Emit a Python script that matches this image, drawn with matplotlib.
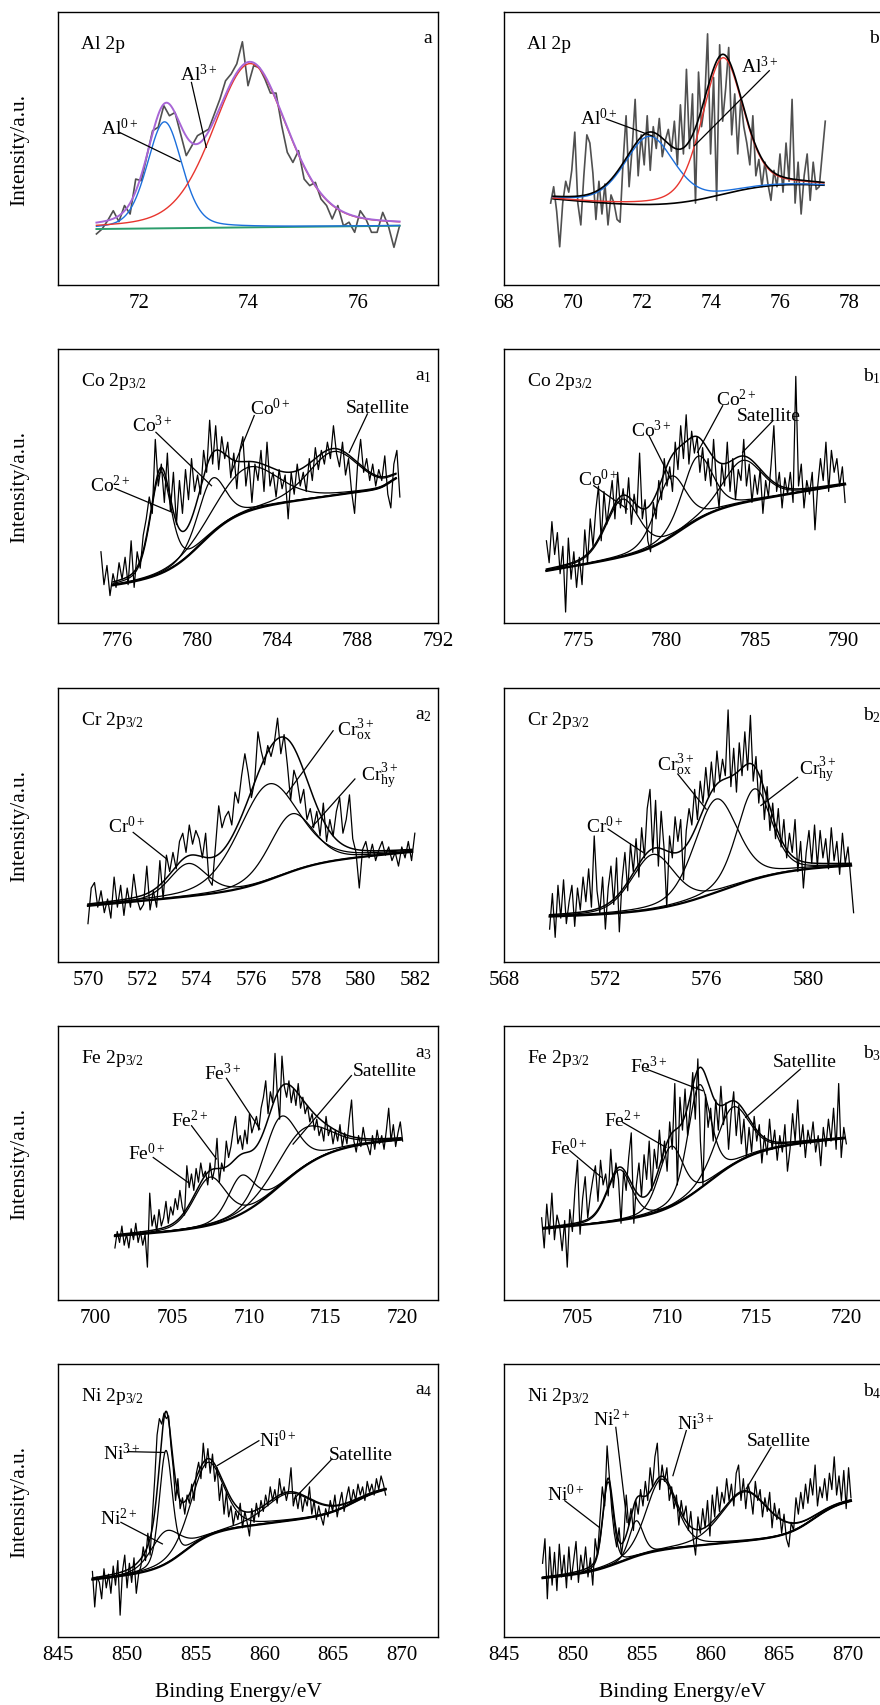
import matplotlib

matplotlib.use("Agg")

import matplotlib.pyplot as plt
import numpy as np

plt.rcParams["font.family"] = ["Liberation Serif", "DejaVu Serif"]
plt.rcParams["mathtext.fontset"] = "custom"
plt.rcParams["mathtext.rm"] = "Liberation Serif"
plt.rcParams["mathtext.it"] = "Liberation Serif:italic"

# ---------------- data (intensity in % of panel height) ----------------
# a : Al 2p
AL_A_RAW_X = (71.23, 76.75)
AL_A_RAW = [
    18.7, 20.5, 23.6, 27.2, 23.2, 29.1, 26.0, 38.8, 38.2, 47.4,
    56.5, 57.8, 65.7, 62.0, 63.2, 55.3, 47.4, 51.0, 54.7, 55.9,
    57.1, 62.6, 68.1, 74.8, 77.3, 81.0, 89.1, 73.0, 80.3, 79.7,
    75.5, 70.3, 70.3, 58.4, 48.6, 44.9, 49.2, 38.8, 36.4, 37.6,
    31.5, 29.1, 24.2, 29.1, 21.7, 23.0, 19.3, 27.2, 24.2, 19.3,
    19.3, 26.6, 21.7, 13.8, 21.7,
]
AL_A_FIT_X = (71.23, 76.75)
AL_A_BG = (71.23, 20.5, 0.22)
AL_A_STEPS = []
AL_A_CENTERS = [72.47, 74.03]
AL_A_HEIGHTS = [39, 60]
AL_A_FWHM = [0.75, 1.6]
AL_A_NAMES = ["Al$^{0+}$", "Al$^{3+}$"]

# b : Al 2p
AL_B_RAW_X = (69.35, 77.3)
AL_B_RAW = [
    30, 36, 27, 14, 30, 38, 34, 42, 56, 30,
    22, 40, 55, 52, 41, 24, 38, 26, 37, 22,
    33, 30, 24, 23, 45, 62, 36, 50, 68, 40,
    55, 44, 62, 42, 58, 50, 61, 47, 53, 57,
    49, 60, 44, 66, 48, 79, 50, 70, 30, 78,
    58, 66, 92, 48, 76, 31, 88, 60, 72, 87,
    55, 70, 48, 68, 58, 52, 44, 62, 40, 46,
    36, 45, 37, 31, 42, 36, 48, 34, 52, 38,
    68, 30, 45, 26, 40, 48, 31, 45, 35, 36,
    48, 60,
]
AL_B_FIT_X = (69.42, 77.26)
AL_B_BG = (69.42, 31.5, -1.2)
AL_B_STEPS = [(15, 74.3, 0.9)]
AL_B_CENTERS = [72.21, 74.33]
AL_B_HEIGHTS = [25, 50]
AL_B_FWHM = [1.7, 1.4]
AL_B_NAMES = ["Al$^{0+}$", "Al$^{3+}$"]

# a1 : Co 2p3/2
CO_A_RAW_X = (775.2, 790.1)
CO_A_RAW = [
    26, 14, 21, 10, 18, 13, 22, 16, 24, 14,
    30, 13, 26, 20, 32, 38, 46, 40, 67, 50,
    58, 44, 62, 41, 55, 36, 52, 40, 56, 45,
    60, 48, 54, 47, 63, 55, 74, 58, 72, 56,
    68, 60, 66, 53, 62, 49, 63, 68, 50, 59,
    44, 58, 52, 63, 48, 66, 50, 55, 46, 56,
    49, 54, 38, 55, 47, 58, 50, 55, 48, 60,
    52, 64, 56, 63, 58, 66, 60, 72, 62, 57,
    66, 54, 60, 48, 40, 58, 67, 55, 60, 52,
    58, 50, 56, 52, 61, 47, 42, 58, 63, 46,
]
CO_A_FIT_X = (775.8, 789.9)
CO_A_BG = (775.8, 13.6, 1.0)
CO_A_STEPS = [(22, 780.2, 0.9), (4, 789.6, 0.25)]
CO_A_CENTERS = [778.18, 780.72, 782.5, 786.8]
CO_A_HEIGHTS = [37, 20, 16, 16]
CO_A_FWHM = [1.2, 1.6, 3.6, 3.0]
CO_A_NAMES = ["Co$^{2+}$", "Co$^{3+}$", "Co$^{0+}$", "Satellite"]

# b1 : Co 2p3/2
CO_B_RAW_X = (773.2, 790.1)
CO_B_RAW = [
    30, 22, 37, 25, 33, 18, 28, 4, 31, 16,
    26, 13, 24, 14, 34, 22, 38, 28, 41, 50,
    30, 48, 36, 44, 52, 38, 55, 42, 49, 40,
    53, 36, 47, 40, 62, 38, 45, 30, 26, 44,
    38, 52, 45, 60, 50, 57, 48, 66, 56, 72,
    60, 76, 58, 70, 62, 68, 55, 64, 52, 60,
    50, 67, 52, 42, 58, 50, 66, 48, 60, 45,
    56, 52, 67, 50, 58, 44, 54, 47, 56, 40,
    52, 46, 58, 72, 48, 55, 42, 53, 47, 55,
    44, 90, 50, 58, 42, 52, 47, 55, 34, 50,
    60, 52, 66, 48, 63, 55, 60, 50, 57, 44,
]
CO_B_FIT_X = (773.2, 790.1)
CO_B_BG = (773.2, 19.0, 1.1)
CO_B_STEPS = [(13, 780.8, 1.0)]
CO_B_CENTERS = [777.49, 780.23, 781.75, 784.3]
CO_B_HEIGHTS = [21, 22, 23, 15.5]
CO_B_FWHM = [2.2, 2.0, 2.0, 2.6]
CO_B_NAMES = ["Co$^{0+}$", "Co$^{3+}$", "Co$^{2+}$", "Satellite"]

# a2 : Cr 2p3/2
CR_A_RAW_X = (570.0, 582.0)
CR_A_RAW = [
    14, 27, 29, 20, 26, 18, 23, 16, 31, 20,
    28, 17, 27, 20, 32, 23, 19, 21, 35, 19,
    26, 20, 37, 23, 39, 33, 40, 34, 44, 47,
    40, 50, 43, 48, 45, 38, 47, 30, 28, 42,
    57, 49, 53, 55, 50, 62, 58, 68, 76, 69,
    60, 66, 84, 77, 72, 79, 75, 80, 89, 76,
    83, 72, 59, 70, 66, 58, 63, 52, 56, 49,
    55, 46, 58, 44, 52, 46, 55, 60, 47, 52,
    61, 45, 40, 27, 41, 44, 38, 43, 37, 41,
    44, 39, 42, 37, 40, 35, 42, 38, 44, 37,
    47,
]
CR_A_FIT_X = (570.0, 581.9)
CR_A_BG = (570.0, 20.5, 0.9)
CR_A_STEPS = [(9, 577.0, 0.8)]
CR_A_CENTERS = [573.68, 576.62, 577.47]
CR_A_HEIGHTS = [12, 35, 21]
CR_A_FWHM = [1.6, 2.6, 1.9]
CR_A_NAMES = ["Cr$^{0+}$", r"Cr$_{\mathrm{ox}}^{3+}$", r"Cr$_{\mathrm{hy}}^{3+}$"]

# b2 : Cr 2p3/2
CR_B_RAW_X = (569.8, 581.8)
CR_B_RAW = [
    12, 25, 9, 28, 16, 30, 14, 22, 28, 13,
    27, 19, 31, 22, 34, 20, 46, 26, 18, 31,
    12, 27, 35, 21, 38, 11, 30, 40, 26, 43,
    33, 45, 31, 49, 38, 56, 63, 40, 59, 35,
    55, 42, 20, 46, 38, 53, 44, 52, 30, 48,
    56, 50, 63, 52, 66, 58, 71, 60, 73, 62,
    77, 66, 74, 68, 92, 64, 78, 62, 80, 68,
    84, 70, 90, 66, 75, 58, 70, 52, 64, 48,
    58, 45, 56, 42, 52, 38, 47, 40, 52, 33,
    44, 27, 40, 48, 36, 50, 35, 48, 38, 45,
    34, 49, 37, 44, 32, 47, 36, 42, 30, 18,
]
CR_B_FIT_X = (569.8, 581.7)
CR_B_BG = (569.8, 16.5, 0.25)
CR_B_STEPS = [(16, 576.6, 1.3)]
CR_B_CENTERS = [573.88, 576.37, 577.88]
CR_B_HEIGHTS = [20, 34, 33]
CR_B_FWHM = [2.0, 2.0, 1.6]
CR_B_NAMES = ["Cr$^{0+}$", r"Cr$_{\mathrm{ox}}^{3+}$", r"Cr$_{\mathrm{hy}}^{3+}$"]

# a3 : Fe 2p3/2
FE_A_RAW_X = (701.3, 720.0)
FE_A_RAW = [
    19, 25, 21, 27, 20, 24, 19, 26, 22, 28,
    21, 25, 20, 24, 12, 39, 27, 31, 25, 33,
    27, 30, 36, 28, 34, 31, 37, 33, 40, 34,
    31, 49, 41, 46, 40, 48, 43, 50, 45, 47,
    42, 50, 44, 48, 59, 43, 50, 47, 58, 52,
    56, 62, 67, 57, 60, 55, 62, 57, 68, 61,
    64, 67, 62, 70, 74, 80, 68, 76, 72, 90,
    75, 66, 89, 78, 74, 80, 72, 77, 71, 79,
    70, 74, 68, 71, 65, 68, 62, 66, 60, 63,
    58, 67, 60, 63, 57, 62, 58, 64, 56, 61,
    57, 66, 73, 58, 54, 60, 56, 63, 58, 56,
    53, 60, 55, 62, 57, 60, 55, 62, 70, 58,
    64, 56, 61, 65, 58,
]
FE_A_FIT_X = (701.3, 719.9)
FE_A_BG = (701.3, 23.3, 0.4)
FE_A_STEPS = [(28, 712.0, 1.6)]
FE_A_CENTERS = [707.47, 709.5, 712.02, 713.5]
FE_A_HEIGHTS = [17.5, 14, 25, 14]
FE_A_FWHM = [2.5, 2.0, 2.6, 4.0]
FE_A_NAMES = ["Fe$^{0+}$", "Fe$^{2+}$", "Fe$^{3+}$", "Satellite"]

# b3 : Fe 2p3/2
FE_B_RAW_X = (703.0, 720.0)
FE_B_RAW = [
    30, 19, 35, 24, 39, 22, 31, 27, 18, 29,
    12, 33, 25, 40, 51, 24, 37, 45, 30, 38,
    44, 49, 36, 51, 42, 46, 38, 55, 41, 50,
    44, 28, 47, 40, 52, 61, 28, 42, 50, 38,
    53, 44, 58, 40, 55, 48, 62, 50, 58, 47,
    65, 55, 79, 42, 74, 62, 77, 60, 70, 83,
    66, 88, 58, 42, 75, 63, 70, 58, 73, 62,
    78, 64, 72, 55, 68, 76, 60, 71, 57, 66,
    52, 63, 54, 67, 58, 64, 50, 60, 53, 66,
    55, 62, 51, 60, 54, 64, 47, 55, 68, 58,
    73, 56, 64, 52, 62, 57, 65, 54, 60, 49,
    63, 56, 66, 58, 70, 55, 79, 52, 63, 57,
]
FE_B_FIT_X = (703.1, 719.9)
FE_B_BG = (703.1, 26.0, 0.6)
FE_B_STEPS = [(23, 712.3, 1.3)]
FE_B_CENTERS = [707.34, 710.21, 711.79, 713.64]
FE_B_HEIGHTS = [18.5, 22, 38, 21]
FE_B_FWHM = [1.6, 1.6, 1.5, 2.2]
FE_B_NAMES = ["Fe$^{0+}$", "Fe$^{2+}$", "Fe$^{3+}$", "Satellite"]

# a4 : Ni 2p3/2
NI_A_RAW_X = (847.5, 868.8)
NI_A_RAW = [
    24, 11, 22, 20, 14, 25, 18, 23, 16, 26,
    19, 28, 8, 24, 30, 18, 27, 20, 29, 16,
    23, 26, 33, 28, 38, 30, 45, 58, 74, 80,
    78, 82, 80, 81, 70, 62, 50, 58, 47, 51,
    45, 52, 49, 56, 50, 60, 64, 58, 71, 62,
    69, 60, 67, 57, 62, 50, 56, 45, 53, 44,
    48, 41, 46, 43, 49, 40, 46, 42, 37, 47,
    42, 49, 44, 50, 46, 52, 48, 55, 50, 54,
    49, 58, 52, 55, 50, 54, 62, 48, 52, 47,
    53, 46, 51, 48, 55, 45, 50, 43, 48, 44,
    41, 47, 44, 50, 46, 52, 44, 49, 53, 46,
    51, 55, 49, 54, 50, 56, 52, 55, 50, 57,
    53, 56, 52, 58, 54, 59, 56, 52,
]
NI_A_FIT_X = (847.5, 868.8)
NI_A_BG = (847.5, 21.0, 0.6)
NI_A_STEPS = [(13, 854.2, 1.0), (8, 866.5, 1.0)]
NI_A_CENTERS = [852.8, 852.83, 855.85, 861.76]
NI_A_HEIGHTS = [12, 41.5, 27, 10]
NI_A_FWHM = [2.5, 1.1, 2.8, 4.0]
NI_A_NAMES = ["Ni$^{2+}$", "Ni$^{3+}$", "Ni$^{0+}$", "Satellite"]

# b4 : Ni 2p3/2
NI_B_RAW_X = (847.8, 870.2)
NI_B_RAW = [
    27, 36, 14, 33, 19, 31, 17, 34, 22, 30,
    18, 33, 21, 28, 35, 20, 30, 24, 33, 22,
    29, 19, 36, 30, 43, 55, 48, 70, 58, 46,
    38, 33, 40, 30, 37, 52, 41, 47, 39, 50,
    45, 54, 48, 57, 50, 62, 55, 66, 71, 54,
    63, 57, 62, 50, 55, 47, 52, 41, 50, 44,
    48, 39, 46, 36, 30, 44, 38, 47, 40, 50,
    37, 52, 44, 55, 46, 53, 49, 58, 50, 56,
    48, 60, 63, 50, 58, 47, 56, 52, 45, 57,
    50, 54, 44, 51, 46, 53, 40, 49, 43, 47,
    38, 45, 36, 33, 42, 39, 51, 45, 53, 47,
    56, 49, 58, 52, 63, 48, 55, 51, 58, 50,
    60, 54, 66, 52, 59, 50, 61, 47, 62, 51,
]
NI_B_FIT_X = (847.8, 870.2)
NI_B_BG = (847.8, 21.5, 0.45)
NI_B_STEPS = [(7, 853.5, 1.2), (12, 867.5, 1.0)]
NI_B_CENTERS = [852.56, 854.6, 856.43, 862.46]
NI_B_HEIGHTS = [31, 13, 26, 18]
NI_B_FWHM = [0.9, 1.2, 2.6, 4.0]
NI_B_NAMES = ["Ni$^{0+}$", "Ni$^{2+}$", "Ni$^{3+}$", "Satellite"]

# ---------------- layout ----------------
FIG_W, FIG_H = 880, 1706
COLS = [(58, 438), (504, 884)]
ROWS = [(13, 286), (350, 624), (689, 963), (1027, 1301), (1365, 1638)]

GL_MIX = 0.3


def gl_peak(x, center, height, fwhm):
    d = (x - center) / fwhm
    return height * ((1 - GL_MIX) * np.exp(-4 * np.log(2) * d ** 2) + GL_MIX / (1 + 4 * d ** 2))


def background(x, bg, steps):
    x0, level, slope = bg
    y = level + slope * (x - x0)
    for h, c, w in steps:
        y = y + h / (1 + np.exp(-(x - c) / w))
    return y


def panel(raw_x, raw, fit_x, bg, steps, centers, heights, fwhm, names):
    return dict(raw_x=raw_x, raw=raw, fit_x=fit_x, bg=bg, steps=steps,
                centers=centers, heights=heights, fwhm=fwhm, names=names)


PANELS = [
    panel(AL_A_RAW_X, AL_A_RAW, AL_A_FIT_X, AL_A_BG, AL_A_STEPS, AL_A_CENTERS, AL_A_HEIGHTS, AL_A_FWHM, AL_A_NAMES),
    panel(AL_B_RAW_X, AL_B_RAW, AL_B_FIT_X, AL_B_BG, AL_B_STEPS, AL_B_CENTERS, AL_B_HEIGHTS, AL_B_FWHM, AL_B_NAMES),
    panel(CO_A_RAW_X, CO_A_RAW, CO_A_FIT_X, CO_A_BG, CO_A_STEPS, CO_A_CENTERS, CO_A_HEIGHTS, CO_A_FWHM, CO_A_NAMES),
    panel(CO_B_RAW_X, CO_B_RAW, CO_B_FIT_X, CO_B_BG, CO_B_STEPS, CO_B_CENTERS, CO_B_HEIGHTS, CO_B_FWHM, CO_B_NAMES),
    panel(CR_A_RAW_X, CR_A_RAW, CR_A_FIT_X, CR_A_BG, CR_A_STEPS, CR_A_CENTERS, CR_A_HEIGHTS, CR_A_FWHM, CR_A_NAMES),
    panel(CR_B_RAW_X, CR_B_RAW, CR_B_FIT_X, CR_B_BG, CR_B_STEPS, CR_B_CENTERS, CR_B_HEIGHTS, CR_B_FWHM, CR_B_NAMES),
    panel(FE_A_RAW_X, FE_A_RAW, FE_A_FIT_X, FE_A_BG, FE_A_STEPS, FE_A_CENTERS, FE_A_HEIGHTS, FE_A_FWHM, FE_A_NAMES),
    panel(FE_B_RAW_X, FE_B_RAW, FE_B_FIT_X, FE_B_BG, FE_B_STEPS, FE_B_CENTERS, FE_B_HEIGHTS, FE_B_FWHM, FE_B_NAMES),
    panel(NI_A_RAW_X, NI_A_RAW, NI_A_FIT_X, NI_A_BG, NI_A_STEPS, NI_A_CENTERS, NI_A_HEIGHTS, NI_A_FWHM, NI_A_NAMES),
    panel(NI_B_RAW_X, NI_B_RAW, NI_B_FIT_X, NI_B_BG, NI_B_STEPS, NI_B_CENTERS, NI_B_HEIGHTS, NI_B_FWHM, NI_B_NAMES),
]

HEADERS = ["Al 2p", "Al 2p", "Co 2p$_{3/2}$", "Co 2p$_{3/2}$", "Cr 2p$_{3/2}$", "Cr 2p$_{3/2}$",
           "Fe 2p$_{3/2}$", "Fe 2p$_{3/2}$", "Ni 2p$_{3/2}$", "Ni 2p$_{3/2}$"]
LETTERS = ["a", "b", "a$_1$", "b$_1$", "a$_2$", "b$_2$", "a$_3$", "b$_3$", "a$_4$", "b$_4$"]

XLIMS = [(70.53, 77.45), (68, 79), (773.06, 792.0), (770.8, 792.3), (568.9, 582.85),
         (568, 583), (697.6, 722.3), (700.9, 722.1), (845, 872.6), (845, 872.6)]
XTICKS = [
    [72, 74, 76], [68, 70, 72, 74, 76, 78],
    [776, 780, 784, 788, 792], [775, 780, 785, 790],
    [570, 572, 574, 576, 578, 580, 582], [568, 572, 576, 580],
    [700, 705, 710, 715, 720], [705, 710, 715, 720],
    [845, 850, 855, 860, 865, 870], [845, 850, 855, 860, 865, 870],
]

# species label placement: (text x, text y, leader x0, y0, x1, y1)
LABEL_POS = [
    [(71.32, 57.8, 71.65, 55.9, 72.75, 45.2), (72.75, 77.3, 72.96, 74.2, 73.23, 50.4)],
    [(70.19, 61.4, 70.96, 60.8, 72.31, 54.5), (74.86, 80.3, 75.68, 78.5, 73.51, 51.0)],
    [(774.67, 50.7, 775.9, 49.1, 778.75, 40.4), (776.76, 72.3, 777.94, 69.6, 780.71, 50.1),
     (782.63, 78.7, 782.84, 75.7, 781.7, 55.0), (787.41, 78.7, 788.48, 76.3, 787.58, 62.3)],
    [(774.99, 52.6, 775.88, 50.1, 777.77, 41.6), (778.0, 70.8, 779.0, 68.4, 780.23, 52.6),
     (782.79, 82.0, 783.17, 79.3, 781.75, 62.3), (783.98, 75.9, 786.01, 73.8, 784.3, 62.3)],
    [(570.75, 49.8, 571.66, 47.3, 572.89, 37.6), (579.13, 85.0, 579.0, 84.4, 577.29, 61.3),
     (580.04, 68.0, 579.8, 66.8, 578.21, 49.1)],
    [(571.25, 49.8, 572.11, 48.5, 573.49, 40.0), (574.04, 72.3, 574.86, 68.6, 575.98, 55.8),
     (579.63, 70.4, 579.59, 67.4, 578.14, 57.1)],
    [(702.12, 53.9, 703.79, 52.0, 706.06, 42.9), (704.92, 66.0, 706.28, 63.6, 707.9, 51.5),
     (707.08, 83.1, 708.55, 80.9, 710.72, 62.4), (716.78, 83.7, 716.67, 81.9, 712.88, 56.9)],
    [(703.46, 55.7, 704.57, 54.5, 706.33, 44.8), (706.46, 66.0, 707.53, 64.8, 709.94, 55.7),
     (707.94, 85.5, 708.83, 84.3, 711.97, 76.4), (715.9, 87.0, 717.44, 84.3, 714.38, 66.7)],
    [(848.07, 43.8, 849.57, 42.0, 852.58, 34.1), (848.24, 67.6, 850.05, 67.9, 852.71, 67.6),
     (859.59, 72.5, 859.59, 71.9, 856.57, 62.8), (864.66, 67.0, 864.9, 65.2, 862.13, 50.5)],
    [(848.09, 52.4, 849.42, 49.9, 851.91, 40.2), (851.47, 79.9, 853.12, 76.8, 853.94, 42.0),
     (857.56, 78.6, 858.24, 75.6, 857.27, 59.1), (862.63, 71.9, 864.4, 69.5, 862.58, 54.2)],
]

COLOR_BLUE = "#1c6fdc"
COLOR_RED = "#e8352e"
COLOR_GREEN = "#2c9d6c"
COLOR_PURPLE = "#a866d6"
COLOR_GREY = "#505050"


def px_rect(col, row):
    left, right = COLS[col]
    top, bottom = ROWS[row]
    return [left / FIG_W, 1 - bottom / FIG_H, (right - left) / FIG_W, (bottom - top) / FIG_H]


def draw_panel(ax, p, colored):
    xr = np.linspace(p["raw_x"][0], p["raw_x"][1], len(p["raw"]))
    xf = np.linspace(p["fit_x"][0], p["fit_x"][1], 600)
    bg = background(xf, p["bg"], p["steps"])
    comps = [gl_peak(xf, c, h, w) for c, h, w in zip(p["centers"], p["heights"], p["fwhm"])]
    env = bg + np.sum(comps, axis=0)

    if colored:
        ax.plot(xr, p["raw"], color=COLOR_GREY, lw=1.2, zorder=2)
        comp_colors = [COLOR_BLUE, COLOR_RED]
        if len(comps) == 2 and p["fit_x"][0] > 71:
            ax.plot(xf, bg, color=COLOR_GREEN, lw=1.4, zorder=3)
            env_color = COLOR_PURPLE
            env_lw = 1.4
        else:
            ax.plot(xf, bg, color="black", lw=1.2, zorder=3)
            env_color = "black"
            env_lw = 1.2
        for comp, col in zip(comps, comp_colors):
            ax.plot(xf, bg + comp, color=col, lw=1.0, zorder=4)
        ax.plot(xf, env, color=env_color, lw=env_lw, zorder=5)
    else:
        ax.plot(xr, p["raw"], color="black", lw=0.9, zorder=2)
        ax.plot(xf, bg, color="black", lw=1.6, zorder=3)
        for comp in comps:
            ax.plot(xf, bg + comp, color="black", lw=0.9, zorder=4)
        ax.plot(xf, env, color="black", lw=1.1, zorder=5)


fig = plt.figure(figsize=(FIG_W / 100, FIG_H / 100), dpi=100)

for i, p in enumerate(PANELS):
    row, col = divmod(i, 2)
    ax = fig.add_axes(px_rect(col, row))
    draw_panel(ax, p, colored=(row == 0))

    ax.set_xlim(*XLIMS[i])
    ax.set_ylim(0, 100)
    ax.set_yticks([])
    ax.set_xticks(XTICKS[i])
    ax.tick_params(axis="x", length=0, pad=6, labelsize=15)
    for sp in ax.spines.values():
        sp.set_linewidth(1.0)

    ax.text(0.06, 0.885, HEADERS[i], transform=ax.transAxes, fontsize=14, ha="left", va="center")
    if col == 0:
        ax.text(0.985, 0.905, LETTERS[i], transform=ax.transAxes, fontsize=14, ha="right", va="center")
    else:
        ax.text(0.962 if row == 0 else 0.945, 0.905, LETTERS[i], transform=ax.transAxes,
                fontsize=14, ha="left", va="center", clip_on=False)

    for name, (tx, ty, x0, y0, x1, y1) in zip(p["names"], LABEL_POS[i]):
        ax.text(tx, ty, name, fontsize=14, ha="left", va="center", zorder=6)
        ax.plot([x0, x1], [y0, y1], color="black", lw=0.9, zorder=6)

    if col == 0:
        top, bottom = ROWS[row]
        fig.text(20 / FIG_W, 1 - (top + bottom) / 2 / FIG_H, "Intensity/a.u.",
                 rotation=90, fontsize=15.5, ha="center", va="center")

fig.text(238 / FIG_W, 1 - 1693 / FIG_H, "Binding Energy/eV", fontsize=15.5, ha="center", va="center")
fig.text(682 / FIG_W, 1 - 1693 / FIG_H, "Binding Energy/eV", fontsize=15.5, ha="center", va="center")

fig.savefig("out.png", dpi=100)
plt.close(fig)
